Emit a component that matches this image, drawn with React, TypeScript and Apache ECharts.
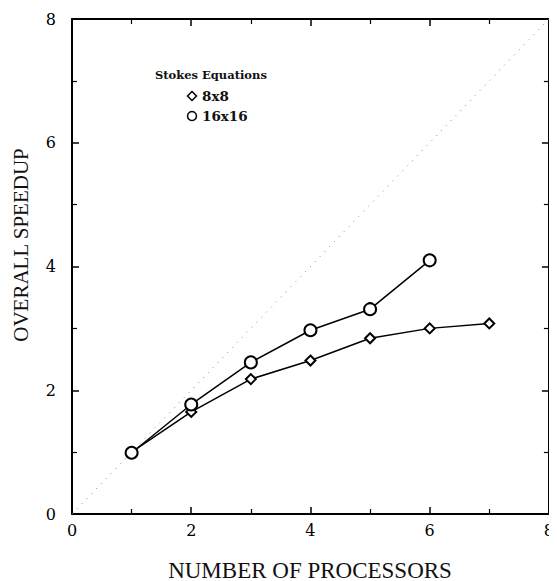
import React, { useEffect, useRef } from "react";
import * as echarts from "echarts";

const processors8 = [1, 2, 3, 4, 5, 6, 7];
const speedup8 = [1.0, 1.65, 2.18, 2.48, 2.84, 3.0, 3.08];
const processors16 = [1, 2, 3, 4, 5, 6];
const speedup16 = [0.99, 1.77, 2.45, 2.97, 3.31, 4.1];
const idealLine = [0, 8];
const seriesNames = ["8x8", "16x16"];
const legendTitle = "Stokes Equations";
const xTitle = "NUMBER OF PROCESSORS";
const yTitle = "OVERALL SPEEDUP";

export default function App() {
  const ref = useRef<HTMLDivElement>(null);
  useEffect(() => {
    if (!ref.current) return;
    const chart = echarts.init(ref.current, null, { renderer: "svg" });
    const tickFont = { fontFamily: "DejaVu Serif", fontSize: 16, color: "#000" };
    const baseAxis = {
      type: "value" as const,
      min: 0,
      max: 8,
      interval: 2,
      axisLine: { show: true, onZero: false, lineStyle: { color: "#000", width: 2 } },
      axisTick: { show: true, inside: true, length: 7, lineStyle: { color: "#000", width: 1.5 } },
      minorTick: { show: true, splitNumber: 2, length: 5, lineStyle: { color: "#000", width: 1.2 } },
      splitLine: { show: false },
    };
    const legendFont = { fontFamily: "DejaVu Serif", fontWeight: "bold" as const, fontSize: 11.5, fill: "#111" };
    const seriesFont = { fontFamily: "DejaVu Serif", fontWeight: "bold" as const, fontSize: 13.5, fill: "#111" };
    chart.setOption({
      animation: false,
      backgroundColor: "#fff",
      grid: { left: 64, right: 4, top: 11, bottom: 67 },
      xAxis: [
        { ...baseAxis, position: "bottom", axisLabel: { ...tickFont, margin: 8 } },
        { ...baseAxis, position: "top", axisLabel: { show: false } },
      ],
      yAxis: [
        { ...baseAxis, position: "left", axisLabel: { ...tickFont, margin: 16 } },
        { ...baseAxis, position: "right", axisLabel: { show: false } },
      ],
      graphic: [
        { type: "text", x: 147, y: 67, style: { ...legendFont, text: legendTitle, verticalAlign: "middle" } },
        {
          type: "polygon",
          shape: { points: [[184, 83.5], [188.5, 88], [184, 92.5], [179.5, 88]] },
          style: { fill: "#fff", stroke: "#000", lineWidth: 1.5 },
        },
        { type: "text", x: 194, y: 88, style: { ...seriesFont, text: seriesNames[0], verticalAlign: "middle" } },
        { type: "circle", shape: { cx: 184, cy: 108, r: 4.5 }, style: { fill: "#fff", stroke: "#000", lineWidth: 1.5 } },
        { type: "text", x: 194, y: 108, style: { ...seriesFont, text: seriesNames[1], verticalAlign: "middle" } },
        {
          type: "text",
          x: 302,
          y: 562,
          style: { text: xTitle, fontFamily: "Liberation Serif", fontSize: 23, fill: "#111", align: "center", verticalAlign: "middle" },
        },
        {
          type: "text",
          x: 13,
          y: 237,
          rotation: Math.PI / 2,
          style: { text: yTitle, fontFamily: "Liberation Serif", fontSize: 21, fill: "#111", align: "center", verticalAlign: "middle" },
        },
      ],
      series: [
        {
          type: "line",
          name: "ideal",
          data: idealLine.map((v) => [v, v]),
          symbol: "none",
          lineStyle: { color: "#888", width: 1, type: [1, 6] },
          silent: true,
        },
        {
          type: "line",
          name: seriesNames[0],
          data: processors8.map((p, i) => [p, speedup8[i]]),
          symbol: "emptyDiamond",
          symbolSize: 10,
          lineStyle: { color: "#000", width: 1.5 },
          itemStyle: { color: "#000", borderColor: "#000", borderWidth: 1.5 },
        },
        {
          type: "line",
          name: seriesNames[1],
          data: processors16.map((p, i) => [p, speedup16[i]]),
          symbol: "emptyCircle",
          symbolSize: 12,
          lineStyle: { color: "#000", width: 1.5 },
          itemStyle: { color: "#000", borderColor: "#000", borderWidth: 1.5 },
        },
      ],
    });
    return () => chart.dispose();
  }, []);
  return <div ref={ref} style={{ width: 549, height: 573 }} />;
}
